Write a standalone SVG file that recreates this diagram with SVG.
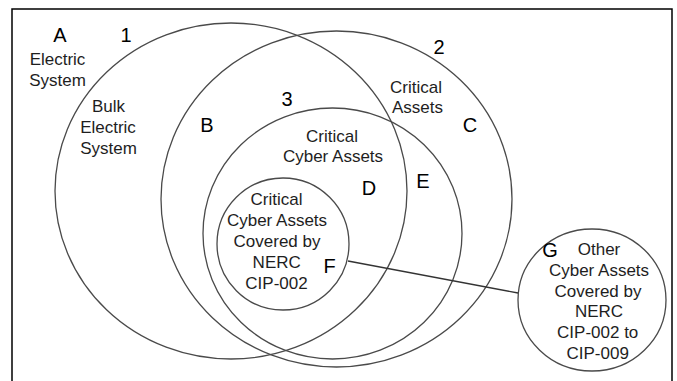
<svg xmlns="http://www.w3.org/2000/svg" width="677" height="381" viewBox="0 0 677 381">
<style>
.ring{fill:none;stroke:#4a4a4a;stroke-width:1.3}
.lbl{font-family:"Liberation Sans","Noto Sans",sans-serif;font-size:17px;fill:#1e1e1e;text-anchor:middle}
.let{font-family:"Liberation Sans","Noto Sans",sans-serif;font-size:20px;fill:#000;text-anchor:middle}
.conn{fill:none;stroke:#333;stroke-width:1.3}
</style>
<rect width="677" height="381" fill="#fff"/>
<path d="M12,381 V9 H672 V381" fill="none" stroke="#000" stroke-width="1.5"/>
<g id="region-A">
<text class="let" x="60" y="42">A</text>
<text class="lbl" x="57.5" y="65">Electric</text>
<text class="lbl" x="57.5" y="85.5">System</text>
</g>
<g id="node-1">
<ellipse class="ring" cx="231" cy="191" rx="176" ry="168"/>
<text class="let" x="126" y="42">1</text>
<text class="lbl" x="108.5" y="112">Bulk</text>
<text class="lbl" x="108" y="133">Electric</text>
<text class="lbl" x="108.5" y="154">System</text>
<text class="let" x="207" y="132">B</text>
</g>
<g id="node-2">
<ellipse class="ring" cx="336.5" cy="199" rx="175.5" ry="168"/>
<text class="let" x="439" y="54">2</text>
<text class="lbl" x="416" y="93">Critical</text>
<text class="lbl" x="417.5" y="113">Assets</text>
<text class="let" x="470" y="132">C</text>
<text class="let" x="423" y="188">E</text>
</g>
<g id="node-3">
<ellipse class="ring" cx="332.5" cy="233.5" rx="129.5" ry="125.5"/>
<text class="let" x="287" y="106">3</text>
<text class="lbl" x="332" y="142">Critical</text>
<text class="lbl" x="333" y="162">Cyber Assets</text>
<text class="let" x="369" y="195">D</text>
</g>
<g id="node-F">
<circle class="ring" cx="283" cy="244" r="66"/>
<text class="lbl" x="276.5" y="205">Critical</text>
<text class="lbl" x="277" y="225.7">Cyber Assets</text>
<text class="lbl" x="277" y="246.5">Covered by</text>
<text class="lbl" x="276.7" y="267.5">NERC</text>
<text class="lbl" x="276.5" y="288.5">CIP-002</text>
<text class="let" x="329.5" y="273">F</text>
</g>
<g id="node-G">
<ellipse class="ring" cx="592" cy="300" rx="74" ry="71"/>
<text class="let" x="550" y="257">G</text>
<text class="lbl" x="599" y="255">Other</text>
<text class="lbl" x="599" y="276">Cyber Assets</text>
<text class="lbl" x="598" y="296.7">Covered by</text>
<text class="lbl" x="599" y="317.3">NERC</text>
<text class="lbl" x="597.7" y="338.3">CIP-002 to</text>
<text class="lbl" x="597.7" y="359">CIP-009</text>
</g>
<g id="connectors">
<line class="conn" x1="348" y1="261" x2="518" y2="293"/>
</g>
</svg>
